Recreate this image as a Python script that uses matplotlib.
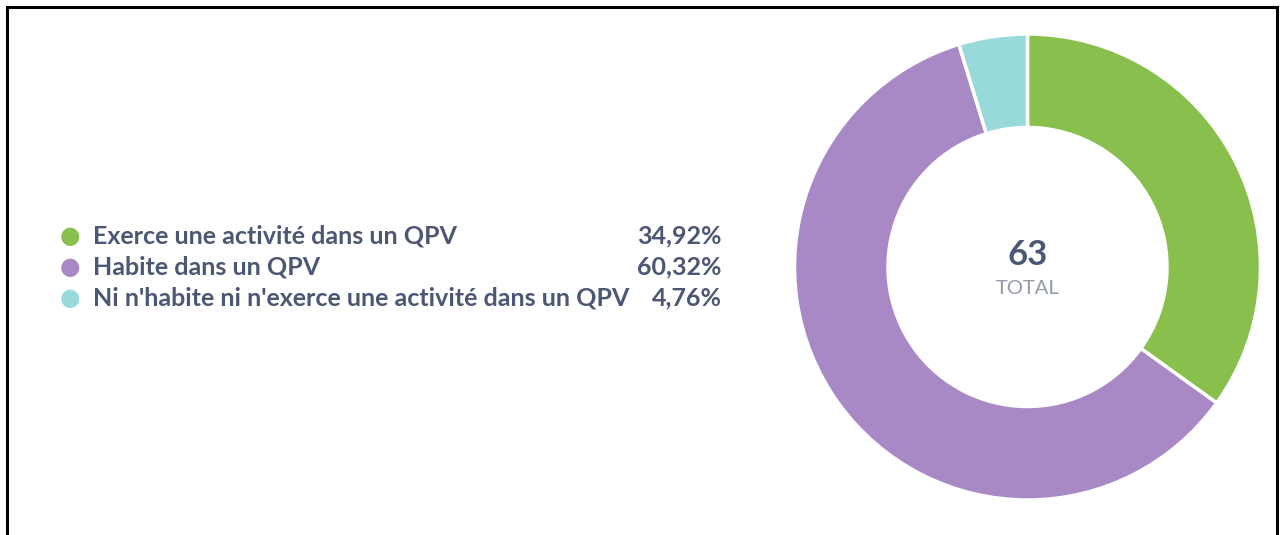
import matplotlib
matplotlib.use("Agg")
import matplotlib.pyplot as plt
from matplotlib.patches import Rectangle

categories = ["Exerce une activité dans un QPV", "Habite dans un QPV",
              "Ni n'habite ni n'exerce une activité dans un QPV"]
percents = [34.92, 60.32, 4.76]
pct_labels = ["34,92%", "60,32%", "4,76%"]
colors = ["#88BF4D", "#A989C5", "#98D9D9"]
total = 63

W, H = 1285, 535
fig = plt.figure(figsize=(W / 100, H / 100), dpi=100)
fig.patch.set_facecolor("white")

# frame
fig.add_artist(Rectangle((7 / W, -0.1), (1277 - 7) / W, (H - 7) / H + 0.1,
                         transform=fig.transFigure, fill=False,
                         edgecolor="black", linewidth=2.2))

# donut
cx, cy, R, r = 1027.5, 267, 233, 139.5
ax = fig.add_axes([(cx - R) / W, (H - cy - R) / H, 2 * R / W, 2 * R / H])
ax.pie(percents, colors=colors, startangle=90, counterclock=False,
       radius=1.0,
       wedgeprops=dict(width=1 - r / R, edgecolor="white", linewidth=2.5))
ax.set_xlim(-1, 1)
ax.set_ylim(-1, 1)
ax.set_aspect("equal")
ax.axis("off")
ax.text(0, (cy - 255) / R, str(total), ha="center", va="center", fontsize=25,
        fontweight="bold", color="#4C5773", family="Lato")
ax.text(0, (cy - 288) / R, "TOTAL", ha="center", va="center", fontsize=14.5,
        color="#949AAB", family="Lato")

# legend
ys = [236, 267, 298]
for lab, pl, col, y in zip(categories, pct_labels, colors, ys):
    fig.text(70 / W, 1 - y / H, "●", ha="center", va="center", fontsize=17,
             color=col, family="DejaVu Sans")
    fig.text(93 / W, 1 - y / H, lab, ha="left", va="center", fontsize=18,
             fontweight="bold", color="#4C5773", family="Lato")
    fig.text(722 / W, 1 - y / H, pl, ha="right", va="center", fontsize=18,
             fontweight="bold", color="#4C5773", family="Lato")

fig.savefig("out.png", dpi=100, facecolor="white")
